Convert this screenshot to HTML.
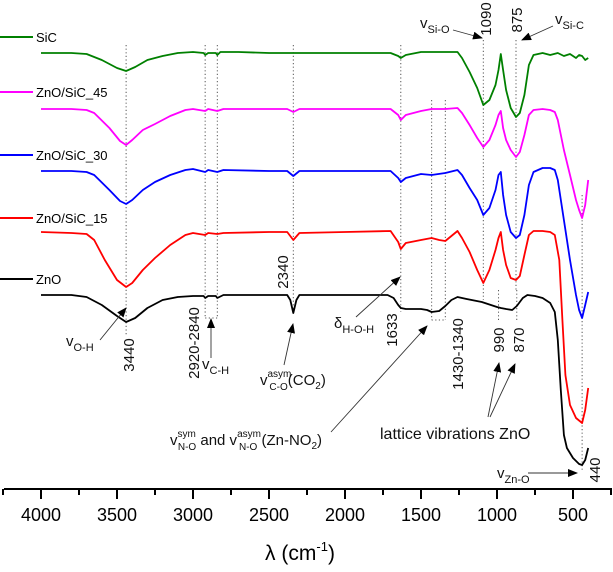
<!DOCTYPE html>
<html><head><meta charset="utf-8"><style>
html,body{margin:0;padding:0;background:#fff}
svg{display:block;font-family:"Liberation Sans",Arial,sans-serif}
.dot{stroke:#555;stroke-width:1;stroke-dasharray:1.2,2.4;fill:none}
.ann{font-size:15px;fill:#111}
.arr{stroke:#333;stroke-width:0.9;fill:none}
</style></head><body>
<svg id="chart" width="613" height="572" viewBox="0 0 613 572">
<defs><marker id="ah" markerWidth="10" markerHeight="8" refX="9" refY="4" orient="auto" markerUnits="userSpaceOnUse"><path d="M0,0 L10,4 L0,8 z" fill="#000"/></marker></defs>
<g id="guides"></g>
<g id="series"></g>
<g id="axis"></g>
<g font-size="13">
<line x1="0" x2="33" y1="37" y2="37" stroke="#008000" stroke-width="2"/><text x="36" y="42">SiC</text>
<line x1="0" x2="33" y1="92" y2="92" stroke="#ff00ff" stroke-width="2"/><text x="36" y="97">ZnO/SiC_45</text>
<line x1="0" x2="33" y1="155" y2="155" stroke="#0000ff" stroke-width="2"/><text x="36" y="160">ZnO/SiC_30</text>
<line x1="0" x2="33" y1="218" y2="218" stroke="#ff0000" stroke-width="2"/><text x="36" y="223">ZnO/SiC_15</text>
<line x1="0" x2="33" y1="279" y2="279" stroke="#000" stroke-width="2"/><text x="36" y="284">ZnO</text>
</g>
<g class="ann">
<text transform="translate(134,355) rotate(-90)" text-anchor="middle">3440</text>
<text transform="translate(199,343) rotate(-90)" text-anchor="middle">2920-2840</text>
<text transform="translate(288,272) rotate(-90)" text-anchor="middle">2340</text>
<text transform="translate(397,330) rotate(-90)" text-anchor="middle">1633</text>
<text transform="translate(463,354) rotate(-90)" text-anchor="middle">1430-1340</text>
<text transform="translate(504,340) rotate(-90)" text-anchor="middle">990</text>
<text transform="translate(524,340) rotate(-90)" text-anchor="middle">870</text>
<text transform="translate(491,19) rotate(-90)" text-anchor="middle">1090</text>
<text transform="translate(522,20) rotate(-90)" text-anchor="middle">875</text>
<text transform="translate(600,470) rotate(-90)" text-anchor="middle">440</text>
<text x="66" y="346">v<tspan font-size="11" dy="5">O-H</tspan></text>
<line class="arr" x1="100" y1="340" x2="126" y2="308" marker-end="url(#ah)"/>
<text x="202" y="369">v<tspan font-size="11" dy="5">C-H</tspan></text>
<line class="arr" x1="211" y1="358" x2="211" y2="319" marker-end="url(#ah)"/>
<text x="260" y="385">v<tspan font-size="10" dy="-8">asym</tspan><tspan font-size="10" dx="-22" dy="13">C-O</tspan><tspan dy="-5">(CO</tspan><tspan font-size="10" dy="4">2</tspan><tspan dy="-4">)</tspan></text>
<line class="arr" x1="284" y1="365" x2="293" y2="324" marker-end="url(#ah)"/>
<text x="334" y="328">δ<tspan font-size="11" dy="5">H-O-H</tspan></text>
<line class="arr" x1="356" y1="317" x2="400" y2="277" marker-end="url(#ah)"/>
<text x="170" y="445">v<tspan font-size="10" dy="-8">sym</tspan><tspan font-size="10" dx="-18" dy="13">N-O</tspan><tspan dy="-5"> and v</tspan><tspan font-size="10" dy="-8">asym</tspan><tspan font-size="10" dx="-22" dy="13">N-O</tspan><tspan dy="-5"> (Zn-NO</tspan><tspan font-size="10" dy="4">2</tspan><tspan dy="-4">)</tspan></text>
<line class="arr" x1="331" y1="432" x2="427" y2="326" marker-end="url(#ah)"/>
<text x="380" y="439" font-size="16">lattice vibrations ZnO</text>
<line class="arr" x1="488" y1="417" x2="499" y2="363" marker-end="url(#ah)"/>
<line class="arr" x1="490" y1="417" x2="515" y2="364" marker-end="url(#ah)"/>
<text x="497" y="478">v<tspan font-size="11" dy="5">Zn-O</tspan></text>
<line class="arr" x1="528" y1="473" x2="577" y2="473" marker-end="url(#ah)"/>
<text x="420" y="28">v<tspan font-size="11" dy="5">Si-O</tspan></text>
<line class="arr" x1="453" y1="30" x2="482" y2="38" marker-end="url(#ah)"/>
<text x="555" y="24">v<tspan font-size="11" dy="5">Si-C</tspan></text>
<line class="arr" x1="553" y1="26" x2="522" y2="40" marker-end="url(#ah)"/>
</g>
<text x="300" y="560" text-anchor="middle" font-size="21">λ (cm<tspan font-size="13" dy="-9">-1</tspan><tspan dy="9">)</tspan></text>
</svg>
<script>
const NS='http://www.w3.org/2000/svg';
const xTicks=[4000,3500,3000,2500,2000,1500,1000,500];
const xMinor=[4250,3750,3250,2750,2250,1750,1250,750,250];
const wSiC=[4000,3800,3700,3600,3500,3440,3380,3300,3200,3100,3000,2930,2920,2900,2850,2840,2820,2700,2500,2340,2000,1700,1650,1633,1600,1500,1400,1300,1260,1230,1180,1130,1090,1050,1010,990,975,960,940,910,875,850,820,790,760,700,650,600,560,520,480,460,440,420,400];
const tSiC=[89.4,89.4,89.2,88,86.4,85.8,86.6,88,88.8,89.4,89.6,89.4,89,89.4,89.4,89,89.6,89.6,89.4,89.4,89.4,89.4,88.8,88.4,89,89.6,89.6,89.6,89.6,88.4,85.6,82.4,79,80,83,86,89.2,86,82,78.4,76.6,77.4,81,87,89,89.4,89,89.4,88.8,89.2,88.4,89,88.8,88,88.4];
const wMix=[4000,3800,3700,3650,3550,3480,3440,3400,3330,3250,3150,3050,3000,2920,2900,2840,2800,2500,2380,2340,2300,2000,1700,1650,1633,1600,1500,1430,1340,1260,1230,1180,1130,1090,1050,1010,990,975,960,940,910,875,850,820,790,760,700,650,620,600,560,520,480,460,440,420,400];
const t45=[78.2,78.2,78,77.4,74.4,71.8,71,72,74,75.2,76.8,78,78.2,77.8,78.2,77.8,78.2,78.2,78.2,77.6,78.2,78.2,78.2,77,76,77,77.8,78.2,78.2,78.4,77.4,75,72.4,70.6,72,75,77,77.8,74.4,72,70,68.6,69.6,73,77,78,78.2,78,77.6,76,70,65,60,58,56.4,59,64];
const t30=[65.8,65.8,65.6,65,62,59.8,59.2,60,62,63.6,65,66,66.2,65.6,66,65.6,66,65.8,65.8,64.8,65.8,65.8,65.8,64.4,63.6,64.4,65.2,65,65.4,66,65,62.4,60,57,58.4,62,65,65.6,61,57,53.6,52.4,53,57,63,65.6,66.4,66.4,66,64,56,48,41,38,36.4,39,41.6];
const w15=[4000,3800,3700,3650,3580,3500,3440,3400,3330,3250,3150,3050,3000,2920,2900,2840,2800,2500,2380,2340,2300,2000,1700,1650,1633,1600,1500,1430,1380,1340,1260,1230,1180,1130,1090,1050,1010,990,975,960,940,910,875,850,820,790,760,700,650,620,590,570,550,520,480,440,420,400];
const t15=[53.6,53.4,53.2,52,48,44,42.6,43.4,46,48.4,51,53,53.4,53,53.4,53.2,53.4,53.6,53.6,52,53.4,53.6,53.8,51.6,50.2,51.4,52,52.4,52,51.8,53.8,52.4,49.6,46,43.4,46,50,52.4,53.6,50,47,44.4,44,44.8,49,53,53.8,53.8,53.6,53,48,36,25,19,16.4,15.4,18,22.4];
const wZnO=[4000,3800,3700,3600,3500,3440,3380,3300,3200,3100,3000,2930,2920,2900,2850,2840,2800,2500,2380,2360,2340,2320,2300,2000,1720,1680,1650,1633,1600,1500,1460,1430,1380,1340,1300,1260,1200,1100,1000,975,940,900,870,830,800,750,700,650,620,600,580,560,540,500,460,440,420,400];
const tZnO=[41,41,40.6,39,36.8,35.6,36.4,38.4,40,40.6,40.8,40.8,40.4,40.8,40.8,40.4,41,41,41,40,37.4,40,41,41,41,40.4,39,38.4,38.2,38.2,38,37.6,37.8,38.8,40,40.6,40.2,39.6,38.6,38.4,38.2,38,38.8,40.4,41,40.8,40.4,39.4,37.6,32,22,13,10.4,8.4,7.2,7,8,10.4];
function xs(w){return 41+(4000-w)*0.152;}
function ys(t){return 500-5*t;}
const g=document.getElementById('series');
function draw(ws,ts,color,name){
  const p=document.createElementNS(NS,'polyline');
  p.setAttribute('points',ws.map((w,i)=>xs(w).toFixed(1)+','+ys(ts[i]).toFixed(1)).join(' '));
  p.setAttribute('fill','none');p.setAttribute('stroke',color);p.setAttribute('stroke-width','1.8');p.setAttribute('stroke-linejoin','round');
  
  
  g.appendChild(p);
}
draw(wSiC,tSiC,'#008000','series-sic');
draw(wMix,t45,'#ff00ff','series-zno-sic-45');
draw(wMix,t30,'#0000ff','series-zno-sic-30');
draw(w15,t15,'#ff0000','series-zno-sic-15');
draw(wZnO,tZnO,'#000000','series-zno');
const gd=document.getElementById('guides');
function dl(x1,y1,x2,y2){const l=document.createElementNS(NS,'line');l.setAttribute('x1',x1);l.setAttribute('y1',y1);l.setAttribute('x2',x2);l.setAttribute('y2',y2);l.setAttribute('class','dot');


gd.appendChild(l);}
dl(xs(3440),45,xs(3440),335);
dl(xs(2920),45,xs(2920),318);dl(xs(2840),45,xs(2840),318);dl(xs(2920),318,xs(2840),318);
dl(xs(2340),45,xs(2340),310);
dl(xs(1633),45,xs(1633),312);
dl(xs(1430),100,xs(1430),320);dl(xs(1340),100,xs(1340),320);dl(xs(1430),320,xs(1340),320);
dl(xs(1090),40,xs(1090),300);dl(xs(875),40,xs(875),290);
dl(xs(990),290,xs(990),322);dl(xs(870),290,xs(870),322);
dl(xs(440),195,xs(440),470);
const ga=document.getElementById('axis');
const ax=document.createElementNS(NS,'line');ax.setAttribute('x1',4);ax.setAttribute('x2',612);ax.setAttribute('y1',489);ax.setAttribute('y2',489);ax.setAttribute('stroke','#000');ax.setAttribute('stroke-width','2');


ga.appendChild(ax);
xTicks.forEach(v=>{const t=document.createElementNS(NS,'line');t.setAttribute('x1',xs(v));t.setAttribute('x2',xs(v));t.setAttribute('y1',489);t.setAttribute('y2',499);t.setAttribute('stroke','#000');t.setAttribute('stroke-width','2');


ga.appendChild(t);
const tx=document.createElementNS(NS,'text');tx.setAttribute('x',xs(v));tx.setAttribute('y',521);tx.setAttribute('text-anchor','middle');tx.setAttribute('font-size','18');tx.textContent=v;


ga.appendChild(tx);});
xMinor.forEach(v=>{const t=document.createElementNS(NS,'line');t.setAttribute('x1',xs(v));t.setAttribute('x2',xs(v));t.setAttribute('y1',489);t.setAttribute('y2',495);t.setAttribute('stroke','#000');t.setAttribute('stroke-width','2');


ga.appendChild(t);});
</script>
</body></html>
